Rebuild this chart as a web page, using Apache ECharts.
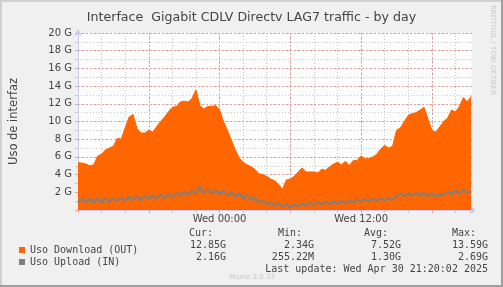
<!DOCTYPE html>
<html>
<head>
<meta charset="utf-8">
<script src="https://cdn.jsdelivr.net/npm/echarts@6/dist/echarts.min.js"></script>
<style>
html,body{margin:0;padding:0;background:#F0F0F0;}
#wrap{position:relative;width:503px;height:287px;overflow:hidden;}
#chart{position:absolute;left:0;top:0;width:503px;height:287px;}
.b{position:absolute;}
</style>
</head>
<body>
<div id="wrap">
<div id="chart"></div>
<div class="b" style="left:0;top:0;width:503px;height:2px;background:#CFCFCF"></div>
<div class="b" style="left:0;top:0;width:2px;height:287px;background:#CFCFCF"></div>
<div class="b" style="right:0;top:0;width:2px;height:287px;background:#9E9E9E"></div>
<div class="b" style="left:0;bottom:0;width:503px;height:2px;background:#9E9E9E"></div>
</div>
<script>
// ---- data (hours relative to Wed 00:00, 20-minute samples) ----
const startHour = -12;
const stepHours = 1 / 3;
const downloadG = [5.35,5.3,5.2,5.0,5.1,6.1,6.3,6.8,7.0,7.2,8.1,8.0,9.3,10.5,10.8,9.2,8.7,8.7,9.0,8.8,
  9.4,10.0,10.5,11.1,11.6,11.7,12.2,12.3,12.2,12.6,13.59,11.8,11.4,11.7,11.7,11.8,11.3,10.0,9.0,7.9,
  6.8,5.9,5.4,5.1,4.9,4.6,4.1,4.0,3.8,3.5,3.3,2.9,2.34,3.4,3.5,3.8,4.3,4.75,4.3,4.3,
  4.3,4.2,4.6,4.5,4.9,5.2,5.4,5.1,5.5,5.0,5.6,5.6,6.1,5.8,5.8,6.0,6.3,6.9,7.3,7.0,
  7.2,9.0,9.3,10.0,10.7,10.9,11.0,11.3,11.6,10.3,9.0,8.8,9.4,10.0,10.4,11.3,11.1,11.7,12.7,12.2,12.85];
const uploadG = [0.8,1.3,0.8,1.3,0.85,1.35,0.85,1.35,0.9,1.4,0.95,1.45,1.0,1.5,1.1,1.6,1.1,1.6,1.2,1.7,
  1.25,1.75,1.3,1.8,1.45,1.95,1.6,2.1,1.7,2.2,1.8,2.69,1.85,2.35,1.8,2.3,1.75,2.2,1.6,2.05,
  1.5,1.9,1.3,1.7,1.1,1.4,0.8,1.1,0.6,0.9,0.45,0.75,0.35,0.7,0.26,0.65,0.4,0.75,0.45,0.85,
  0.55,0.9,0.6,0.95,0.65,1.0,0.7,1.05,0.75,1.1,0.85,1.2,0.9,1.25,0.95,1.3,1.0,1.35,1.05,1.4,
  1.1,1.6,1.9,1.55,1.9,1.6,1.95,1.6,1.95,1.55,1.9,1.45,1.8,1.65,2.05,1.75,2.2,1.85,2.35,1.9,2.16];
const seriesNames = ['Uso Download (OUT)', 'Uso Upload (IN)'];
const statHeaders = ['Cur:', 'Min:', 'Avg:', 'Max:'];
const downloadStats = ['12.85G', '2.34G', '7.52G', '13.59G'];
const uploadStats = ['2.16G', '255.22M', '1.30G', '2.69G'];
const xTickLabels = { '0': 'Wed 00:00', '12': 'Wed 12:00' };
const titleText = 'Interface  Gigabit CDLV Directv LAG7 traffic - by day';
const yAxisTitle = 'Uso de interfaz';
const lastUpdate = 'Last update: Wed Apr 30 21:20:02 2025';
const footer = 'Munin 2.0.33';
const sideText = 'RRDTOOL / TOBI OETIKER';

const toPairs = arr => arr.map((v, i) => [startHour + i * stepHours, v]);

const AXIS = '#C8C8F0';
const MGRID = '#E8A0A0';
const GRID = '#C8C8C8';
const TXT = '#444';
const mono = 'DejaVu Sans Mono';

const chart = echarts.init(document.getElementById('chart'), null, { renderer: 'canvas' });

const statCols = [226, 314, 401, 488];
const headCols = [213, 302, 388, 476];
const graphics = [];
const monoFont = '10px "' + mono + '"';
statHeaders.forEach((t, i) => graphics.push({ type: 'text', x: headCols[i], y: 233, style: { text: t, font: monoFont, fill: TXT, align: 'right', verticalAlign: 'middle' } }));
downloadStats.forEach((t, i) => graphics.push({ type: 'text', x: statCols[i], y: 245, style: { text: t, font: monoFont, fill: TXT, align: 'right', verticalAlign: 'middle' } }));
uploadStats.forEach((t, i) => graphics.push({ type: 'text', x: statCols[i], y: 257, style: { text: t, font: monoFont, fill: TXT, align: 'right', verticalAlign: 'middle' } }));
graphics.push({ type: 'text', x: 488, y: 269, style: { text: lastUpdate, font: monoFont, fill: TXT, align: 'right', verticalAlign: 'middle' } });
graphics.push({ type: 'text', x: 252, y: 277, style: { text: footer, font: '7px "DejaVu Sans"', fill: '#C8C8C8', align: 'center', verticalAlign: 'middle' } });
graphics.push({ type: 'text', x: 493, y: 5, rotation: -Math.PI / 2, style: { text: sideText, font: '7px "DejaVu Sans"', fill: '#C8C8C8', align: 'left', verticalAlign: 'middle' } });

chart.setOption({
  animation: false,
  backgroundColor: '#F0F0F0',
  title: {
    text: titleText, left: 'center', top: 6,
    textStyle: { fontFamily: 'DejaVu Sans', fontSize: 12.6, fontWeight: 'normal', color: TXT }
  },
  grid: { left: 72, top: 33, width: 400, height: 177, show: true, backgroundColor: '#FFFFFF', borderWidth: 0 },
  legend: {
    data: seriesNames, orient: 'vertical', left: 14, top: 239, itemGap: 0,
    itemWidth: 6, itemHeight: 6, icon: 'rect',
    textStyle: { fontFamily: mono, fontSize: 10, color: TXT, lineHeight: 12 }
  },
  graphic: graphics,
  xAxis: [
    {
      type: 'value', position: 'bottom', min: -12, max: 21.4, interval: 2,
      axisLine: { show: false, onZero: false },
      axisTick: { show: true, length: 3, lineStyle: { color: GRID } },
      axisLabel: { show: false },
      splitLine: { show: true, showMaxLine: false, lineStyle: { color: GRID, type: [1, 2], width: 1 } }
    },
    {
      type: 'value', position: 'bottom', min: -12, max: 21.4, interval: 6,
      axisLine: { show: true, onZero: false, lineStyle: { color: AXIS, width: 1 }, symbol: ['none', 'arrow'], symbolSize: [6, 7], symbolOffset: [0, 4] },
      axisTick: { show: true, length: 3, lineStyle: { color: MGRID } },
      axisLabel: {
        margin: 4, fontFamily: 'DejaVu Sans', fontSize: 10, color: TXT,
        formatter: v => xTickLabels[String(Math.round(v * 100) / 100)] || ''
      },
      splitLine: { show: true, showMaxLine: false, lineStyle: { color: MGRID, type: [2, 2], width: 1 } }
    }
  ],
  yAxis: [
    {
      type: 'value', position: 'left', min: 0, max: 20, interval: 1,
      axisLine: { show: false, onZero: false },
      axisTick: { show: true, length: 3, lineStyle: { color: GRID } },
      axisLabel: { show: false },
      splitLine: { show: true, lineStyle: { color: GRID, type: [1, 2], width: 1 } }
    },
    {
      type: 'value', position: 'left', min: 0, max: 20, interval: 2,
      name: yAxisTitle, nameLocation: 'middle', nameGap: 58, nameRotate: 90,
      nameTextStyle: { fontFamily: 'DejaVu Sans', fontSize: 11.5, color: TXT },
      axisLine: { show: true, onZero: false, lineStyle: { color: AXIS, width: 1 }, symbol: ['none', 'arrow'], symbolSize: [6, 7], symbolOffset: [0, 4] },
      axisTick: { show: true, length: 3, lineStyle: { color: MGRID } },
      axisLabel: {
        margin: 6, fontFamily: 'DejaVu Sans', fontSize: 10, color: TXT,
        formatter: v => (v === 0 ? '' : v + ' G')
      },
      splitLine: { show: true, showMinLine: false, lineStyle: { color: MGRID, type: [2, 2], width: 1 } }
    }
  ],
  series: [
    {
      name: seriesNames[0], type: 'line', xAxisIndex: 1, yAxisIndex: 1,
      data: toPairs(downloadG), symbol: 'none',
      itemStyle: { color: '#FF6600' },
      lineStyle: { color: '#FF6600', width: 1 },
      areaStyle: { color: '#FF6600', opacity: 1 }, z: 3
    },
    {
      name: seriesNames[1], type: 'line', xAxisIndex: 1, yAxisIndex: 1,
      data: toPairs(uploadG), symbol: 'none',
      itemStyle: { color: '#7F7F7F' },
      lineStyle: { color: '#7F7F7F', width: 2 }, z: 4
    }
  ]
});
</script>
</body>
</html>
